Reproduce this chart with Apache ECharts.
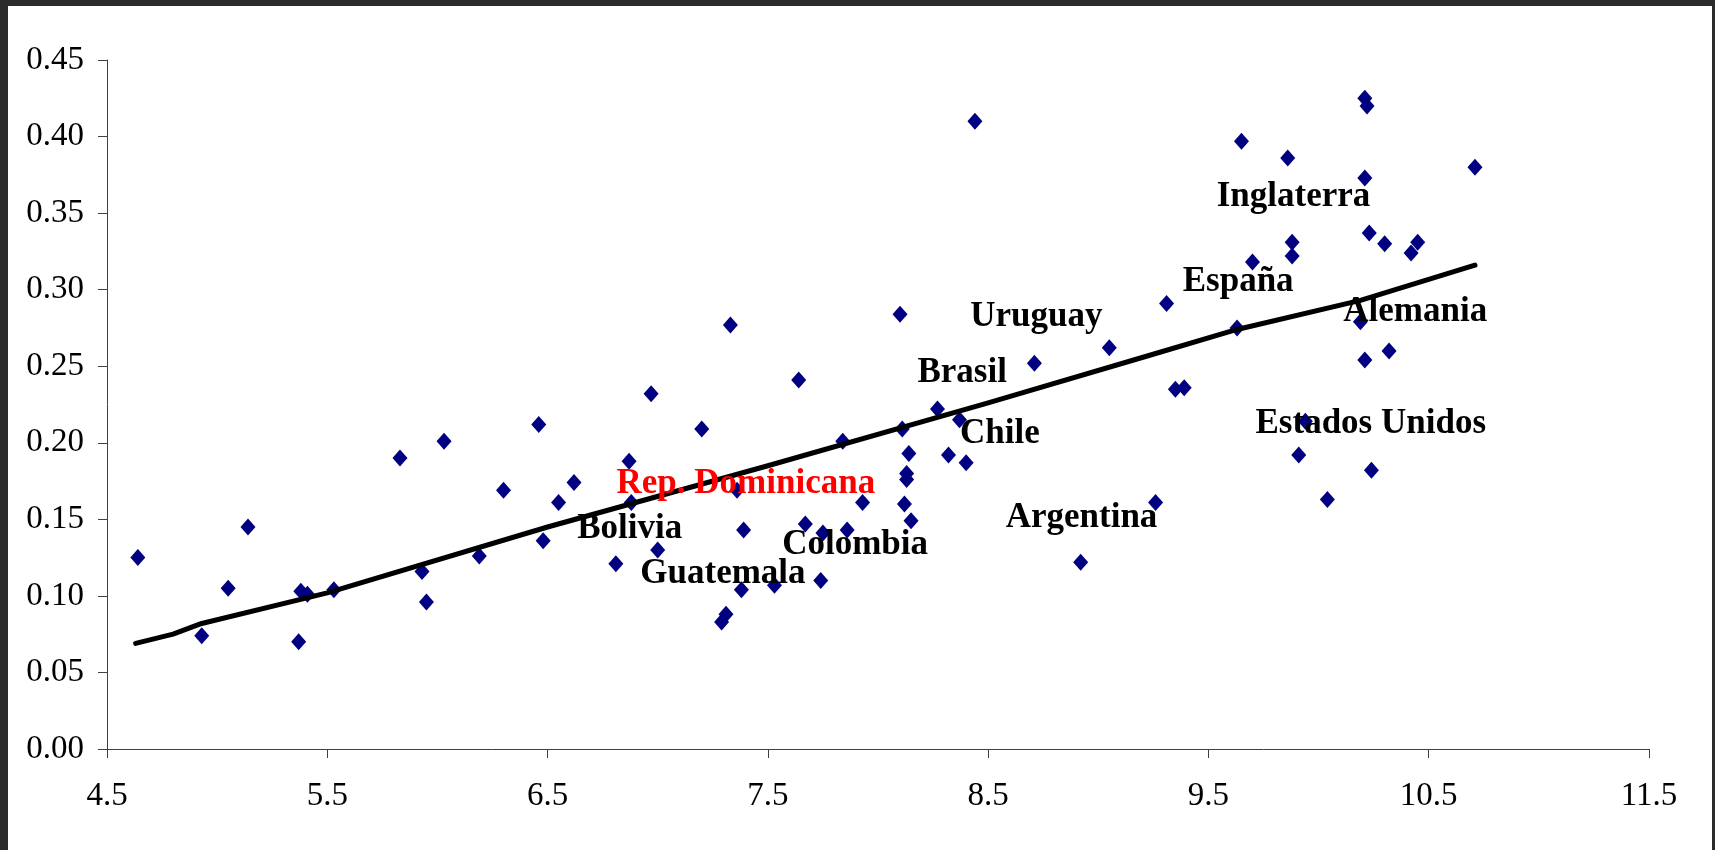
<!DOCTYPE html>
<html>
<head>
<meta charset="utf-8">
<script src="https://cdn.jsdelivr.net/npm/echarts@6.0.0/dist/echarts.min.js"></script>
<style>
  body { margin: 0; background: #2b2b2b; }
  #chart {
    position: absolute;
    left: 8px;
    top: 6px;
    width: 1704px;
    height: 844px;
    background: #ffffff;
  }
</style>
</head>
<body>
<div id="chart"></div>
<script>
  // points (x, y)
  let xValues = [4.64, 4.93, 5.05, 5.14, 5.37, 5.38, 5.41, 5.53, 5.83, 5.93,
    5.95, 6.03, 6.19, 6.30, 6.46, 6.48, 6.55, 6.62, 6.81, 6.87,
    6.88, 6.97, 7.00, 7.20, 7.29, 7.31, 7.33, 7.36, 7.38, 7.39,
    7.53, 7.64, 7.67, 7.74, 7.75, 7.84, 7.86, 7.93, 8.10, 8.11,
    8.12, 8.13, 8.13, 8.14, 8.15, 8.27, 8.32, 8.37, 8.40, 8.44,
    8.71, 8.92, 9.05, 9.26, 9.31, 9.35, 9.39, 9.63, 9.65, 9.70,
    9.86, 9.88, 9.88, 9.91, 9.94, 10.04, 10.19, 10.21, 10.22, 10.21,
    10.21, 10.23, 10.24, 10.30, 10.32, 10.42, 10.45, 10.71];
  let yValues = [0.125, 0.074, 0.105, 0.145, 0.070, 0.103, 0.101, 0.104, 0.190, 0.116,
    0.096, 0.201, 0.126, 0.169, 0.212, 0.136, 0.161, 0.174, 0.121, 0.188,
    0.161, 0.232, 0.130, 0.209, 0.083, 0.088, 0.277, 0.169, 0.104, 0.143,
    0.107, 0.241, 0.147, 0.110, 0.141, 0.201, 0.143, 0.161, 0.284, 0.209,
    0.160, 0.180, 0.176, 0.193, 0.149, 0.222, 0.192, 0.215, 0.187, 0.410,
    0.252, 0.122, 0.262, 0.161, 0.291, 0.235, 0.236, 0.275, 0.397, 0.318,
    0.386, 0.331, 0.322, 0.192, 0.214, 0.163, 0.279, 0.425, 0.420, 0.373,
    0.254, 0.337, 0.182, 0.330, 0.260, 0.324, 0.331, 0.380];

  // trend line, read at a few places
  let trendX = [4.63, 4.80, 4.93, 5.50, 6.50, 7.50, 8.50, 9.23, 9.63, 10.19, 10.71];
  let trendY = [0.069, 0.075, 0.082, 0.102, 0.145, 0.185, 0.226, 0.257, 0.274, 0.293, 0.316];

  // country labels
  let labelNames = ['Inglaterra', 'España', 'Alemania', 'Estados Unidos', 'Argentina', 'Uruguay',
    'Brasil', 'Chile', 'Rep. Dominicana', 'Bolivia', 'Colombia', 'Guatemala'];
  let labelX = [9.886, 9.635, 10.439, 10.237, 8.924, 8.719, 8.382, 8.553, 7.400, 6.873, 7.896, 7.296];
  let labelY = [0.3606, 0.3052, 0.2856, 0.2124, 0.1509, 0.2824, 0.2456, 0.2060, 0.1728, 0.1434, 0.1334, 0.1142];

  let points = xValues.map((x, i) => [x, yValues[i]]);
  let trend = trendX.map((x, i) => [x, trendY[i]]);
  let labels = labelNames.map((name, i) => ({
    value: [labelX[i], labelY[i]],
    name: name,
    label: { color: name === 'Rep. Dominicana' ? '#ff0000' : '#000000' }
  }));

  let axisFont = { fontFamily: 'Liberation Serif', fontSize: 33, color: '#000000' };
  let chart = echarts.init(document.getElementById('chart'), null, { renderer: 'canvas' });
  chart.setOption({
    animation: false,
    grid: { left: 99, top: 54, width: 1542, height: 689 },
    xAxis: {
      type: 'value',
      min: 4.5,
      max: 11.5,
      interval: 1,
      axisLine: { lineStyle: { color: '#404040', width: 1 } },
      axisTick: { show: true, length: 9, lineStyle: { color: '#404040' } },
      splitLine: { show: false },
      axisLabel: Object.assign({ margin: 31, formatter: v => v.toFixed(1) }, axisFont)
    },
    yAxis: {
      type: 'value',
      min: 0,
      max: 0.45,
      interval: 0.05,
      axisLine: { show: true, lineStyle: { color: '#404040', width: 1 } },
      axisTick: { show: true, length: 9, lineStyle: { color: '#404040' } },
      splitLine: { show: false },
      axisLabel: Object.assign({ margin: 23, formatter: v => v.toFixed(2) }, axisFont)
    },
    series: [
      {
        type: 'scatter',
        data: points,
        symbol: 'diamond',
        symbolSize: [15, 17],
        itemStyle: { color: '#000080', opacity: 1 },
        z: 2
      },
      {
        type: 'line',
        data: trend,
        showSymbol: false,
        smooth: false,
        lineStyle: { color: '#000000', width: 5, cap: 'round', join: 'round' },
        z: 3
      },
      {
        type: 'scatter',
        data: labels,
        symbolSize: 0,
        itemStyle: { opacity: 1 },
        z: 4,
        label: {
          show: true,
          position: 'inside',
          formatter: p => p.name,
          fontFamily: 'Liberation Serif',
          fontWeight: 'bold',
          fontSize: 35,
          textBorderWidth: 0
        }
      }
    ]
  });
</script>
</body>
</html>
